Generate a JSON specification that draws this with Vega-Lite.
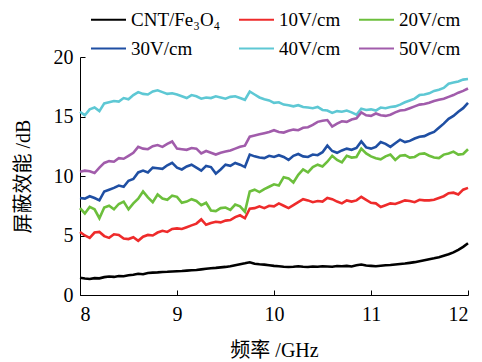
{
"$schema": "https://vega.github.io/schema/vega-lite/v6.json",
"width": 388, "height": 238,
"autosize": {"type": "none"},
"padding": {"left": 80, "top": 57, "right": 14, "bottom": 67},
"background": "white",
"config": {
  "font": "Liberation Serif, Noto Sans CJK SC",
  "view": {"stroke": null},
  "axis": {"grid": false, "domainColor": "#000000", "domainWidth": 1, "tickColor": "#000000", "tickSize": -5, "tickWidth": 1,
    "labelFontSize": 20, "labelColor": "#000000", "titleFontSize": 20, "titleFontWeight": "normal", "titleColor": "#000000", "labelPadding": 12}
},
"data": {"values": [
{"f":8.00,"CNT/Fe₃O₄":1.45,"10V/cm":5.30,"20V/cm":7.30,"30V/cm":8.15,"40V/cm":15.40,"50V/cm":10.35},
{"f":8.05,"CNT/Fe₃O₄":1.38,"10V/cm":5.00,"20V/cm":6.85,"30V/cm":8.10,"40V/cm":15.10,"50V/cm":10.45},
{"f":8.10,"CNT/Fe₃O₄":1.35,"10V/cm":4.80,"20V/cm":7.40,"30V/cm":8.30,"40V/cm":15.60,"50V/cm":10.40},
{"f":8.15,"CNT/Fe₃O₄":1.42,"10V/cm":5.25,"20V/cm":7.20,"30V/cm":8.15,"40V/cm":15.75,"50V/cm":10.25},
{"f":8.20,"CNT/Fe₃O₄":1.40,"10V/cm":5.30,"20V/cm":6.45,"30V/cm":7.95,"40V/cm":15.45,"50V/cm":10.70},
{"f":8.25,"CNT/Fe₃O₄":1.50,"10V/cm":4.95,"20V/cm":7.35,"30V/cm":8.70,"40V/cm":16.10,"50V/cm":11.10},
{"f":8.30,"CNT/Fe₃O₄":1.55,"10V/cm":4.80,"20V/cm":7.50,"30V/cm":8.85,"40V/cm":16.20,"50V/cm":11.25},
{"f":8.35,"CNT/Fe₃O₄":1.52,"10V/cm":5.10,"20V/cm":7.20,"30V/cm":9.00,"40V/cm":16.30,"50V/cm":11.20},
{"f":8.40,"CNT/Fe₃O₄":1.60,"10V/cm":5.05,"20V/cm":7.65,"30V/cm":9.20,"40V/cm":16.25,"50V/cm":11.50},
{"f":8.45,"CNT/Fe₃O₄":1.58,"10V/cm":4.75,"20V/cm":7.85,"30V/cm":9.10,"40V/cm":16.55,"50V/cm":11.45},
{"f":8.50,"CNT/Fe₃O₄":1.66,"10V/cm":4.70,"20V/cm":7.20,"30V/cm":9.60,"40V/cm":16.45,"50V/cm":11.70},
{"f":8.55,"CNT/Fe₃O₄":1.70,"10V/cm":4.85,"20V/cm":7.70,"30V/cm":9.75,"40V/cm":16.80,"50V/cm":11.95},
{"f":8.60,"CNT/Fe₃O₄":1.78,"10V/cm":4.55,"20V/cm":8.10,"30V/cm":10.30,"40V/cm":17.05,"50V/cm":12.45},
{"f":8.65,"CNT/Fe₃O₄":1.75,"10V/cm":4.90,"20V/cm":8.70,"30V/cm":10.45,"40V/cm":16.90,"50V/cm":12.30},
{"f":8.70,"CNT/Fe₃O₄":1.85,"10V/cm":5.05,"20V/cm":8.20,"30V/cm":10.30,"40V/cm":16.85,"50V/cm":12.25},
{"f":8.75,"CNT/Fe₃O₄":1.88,"10V/cm":5.00,"20V/cm":7.80,"30V/cm":10.70,"40V/cm":17.10,"50V/cm":12.50},
{"f":8.80,"CNT/Fe₃O₄":1.90,"10V/cm":5.25,"20V/cm":8.45,"30V/cm":10.65,"40V/cm":17.20,"50V/cm":12.60},
{"f":8.85,"CNT/Fe₃O₄":1.93,"10V/cm":5.40,"20V/cm":8.10,"30V/cm":10.60,"40V/cm":17.05,"50V/cm":12.45},
{"f":8.90,"CNT/Fe₃O₄":1.95,"10V/cm":5.30,"20V/cm":8.00,"30V/cm":10.90,"40V/cm":16.90,"50V/cm":12.70},
{"f":8.95,"CNT/Fe₃O₄":1.98,"10V/cm":5.55,"20V/cm":8.35,"30V/cm":11.10,"40V/cm":16.95,"50V/cm":12.90},
{"f":9.00,"CNT/Fe₃O₄":2.00,"10V/cm":5.60,"20V/cm":8.25,"30V/cm":10.70,"40V/cm":16.85,"50V/cm":12.30},
{"f":9.05,"CNT/Fe₃O₄":2.02,"10V/cm":5.55,"20V/cm":7.75,"30V/cm":10.55,"40V/cm":16.70,"50V/cm":12.25},
{"f":9.10,"CNT/Fe₃O₄":2.05,"10V/cm":5.70,"20V/cm":7.85,"30V/cm":10.80,"40V/cm":16.55,"50V/cm":12.20},
{"f":9.15,"CNT/Fe₃O₄":2.08,"10V/cm":5.85,"20V/cm":8.05,"30V/cm":10.95,"40V/cm":16.80,"50V/cm":12.35},
{"f":9.20,"CNT/Fe₃O₄":2.10,"10V/cm":6.00,"20V/cm":7.90,"30V/cm":10.70,"40V/cm":16.70,"50V/cm":12.30},
{"f":9.25,"CNT/Fe₃O₄":2.15,"10V/cm":6.35,"20V/cm":7.55,"30V/cm":10.45,"40V/cm":16.50,"50V/cm":11.90},
{"f":9.30,"CNT/Fe₃O₄":2.20,"10V/cm":5.90,"20V/cm":7.75,"30V/cm":10.85,"40V/cm":16.60,"50V/cm":12.10},
{"f":9.35,"CNT/Fe₃O₄":2.25,"10V/cm":6.05,"20V/cm":7.10,"30V/cm":10.75,"40V/cm":16.55,"50V/cm":11.95},
{"f":9.40,"CNT/Fe₃O₄":2.28,"10V/cm":6.15,"20V/cm":7.05,"30V/cm":10.20,"40V/cm":16.70,"50V/cm":11.80},
{"f":9.45,"CNT/Fe₃O₄":2.32,"10V/cm":6.10,"20V/cm":7.30,"30V/cm":10.55,"40V/cm":16.60,"50V/cm":11.95},
{"f":9.50,"CNT/Fe₃O₄":2.36,"10V/cm":6.25,"20V/cm":7.35,"30V/cm":10.95,"40V/cm":16.50,"50V/cm":12.05},
{"f":9.55,"CNT/Fe₃O₄":2.42,"10V/cm":6.30,"20V/cm":7.15,"30V/cm":10.85,"40V/cm":16.65,"50V/cm":12.15},
{"f":9.60,"CNT/Fe₃O₄":2.50,"10V/cm":6.55,"20V/cm":7.60,"30V/cm":11.10,"40V/cm":16.70,"50V/cm":12.30},
{"f":9.65,"CNT/Fe₃O₄":2.58,"10V/cm":6.70,"20V/cm":7.45,"30V/cm":10.95,"40V/cm":16.55,"50V/cm":12.45},
{"f":9.70,"CNT/Fe₃O₄":2.66,"10V/cm":6.45,"20V/cm":7.00,"30V/cm":10.75,"40V/cm":16.40,"50V/cm":12.55},
{"f":9.75,"CNT/Fe₃O₄":2.75,"10V/cm":7.25,"20V/cm":8.70,"30V/cm":11.80,"40V/cm":17.10,"50V/cm":13.30},
{"f":9.80,"CNT/Fe₃O₄":2.62,"10V/cm":7.30,"20V/cm":8.85,"30V/cm":11.65,"40V/cm":16.85,"50V/cm":13.40},
{"f":9.85,"CNT/Fe₃O₄":2.58,"10V/cm":7.45,"20V/cm":8.65,"30V/cm":11.55,"40V/cm":16.60,"50V/cm":13.50},
{"f":9.90,"CNT/Fe₃O₄":2.55,"10V/cm":7.30,"20V/cm":8.90,"30V/cm":11.50,"40V/cm":16.45,"50V/cm":13.60},
{"f":9.95,"CNT/Fe₃O₄":2.50,"10V/cm":7.50,"20V/cm":9.10,"30V/cm":11.70,"40V/cm":16.35,"50V/cm":13.70},
{"f":10.00,"CNT/Fe₃O₄":2.45,"10V/cm":7.45,"20V/cm":9.30,"30V/cm":11.60,"40V/cm":16.15,"50V/cm":13.85},
{"f":10.05,"CNT/Fe₃O₄":2.42,"10V/cm":7.70,"20V/cm":9.20,"30V/cm":11.75,"40V/cm":16.20,"50V/cm":13.70},
{"f":10.10,"CNT/Fe₃O₄":2.38,"10V/cm":7.50,"20V/cm":9.90,"30V/cm":11.60,"40V/cm":16.00,"50V/cm":13.65},
{"f":10.15,"CNT/Fe₃O₄":2.35,"10V/cm":7.30,"20V/cm":9.80,"30V/cm":11.35,"40V/cm":15.95,"50V/cm":13.80},
{"f":10.20,"CNT/Fe₃O₄":2.38,"10V/cm":7.55,"20V/cm":9.45,"30V/cm":11.70,"40V/cm":15.85,"50V/cm":13.90},
{"f":10.25,"CNT/Fe₃O₄":2.42,"10V/cm":7.80,"20V/cm":10.10,"30V/cm":11.85,"40V/cm":15.95,"50V/cm":13.85},
{"f":10.30,"CNT/Fe₃O₄":2.38,"10V/cm":8.05,"20V/cm":10.55,"30V/cm":11.65,"40V/cm":15.80,"50V/cm":14.05},
{"f":10.35,"CNT/Fe₃O₄":2.35,"10V/cm":7.95,"20V/cm":10.30,"30V/cm":11.60,"40V/cm":15.75,"50V/cm":14.10},
{"f":10.40,"CNT/Fe₃O₄":2.40,"10V/cm":7.80,"20V/cm":10.75,"30V/cm":11.80,"40V/cm":15.70,"50V/cm":14.30},
{"f":10.45,"CNT/Fe₃O₄":2.38,"10V/cm":7.90,"20V/cm":10.95,"30V/cm":11.75,"40V/cm":15.80,"50V/cm":14.55},
{"f":10.50,"CNT/Fe₃O₄":2.42,"10V/cm":7.85,"20V/cm":10.80,"30V/cm":12.00,"40V/cm":15.55,"50V/cm":14.65},
{"f":10.55,"CNT/Fe₃O₄":2.40,"10V/cm":8.15,"20V/cm":11.20,"30V/cm":12.55,"40V/cm":15.50,"50V/cm":14.70},
{"f":10.60,"CNT/Fe₃O₄":2.38,"10V/cm":8.05,"20V/cm":11.70,"30V/cm":12.10,"40V/cm":15.30,"50V/cm":14.15},
{"f":10.65,"CNT/Fe₃O₄":2.44,"10V/cm":7.85,"20V/cm":11.35,"30V/cm":11.95,"40V/cm":15.45,"50V/cm":14.40},
{"f":10.70,"CNT/Fe₃O₄":2.42,"10V/cm":7.70,"20V/cm":11.15,"30V/cm":12.15,"40V/cm":15.40,"50V/cm":14.60},
{"f":10.75,"CNT/Fe₃O₄":2.45,"10V/cm":7.95,"20V/cm":11.70,"30V/cm":12.30,"40V/cm":15.50,"50V/cm":14.55},
{"f":10.80,"CNT/Fe₃O₄":2.40,"10V/cm":7.85,"20V/cm":11.55,"30V/cm":12.20,"40V/cm":15.35,"50V/cm":14.75},
{"f":10.85,"CNT/Fe₃O₄":2.50,"10V/cm":7.95,"20V/cm":11.60,"30V/cm":12.35,"40V/cm":15.15,"50V/cm":14.85},
{"f":10.90,"CNT/Fe₃O₄":2.56,"10V/cm":8.25,"20V/cm":12.30,"30V/cm":12.90,"40V/cm":15.65,"50V/cm":15.35},
{"f":10.95,"CNT/Fe₃O₄":2.48,"10V/cm":8.00,"20V/cm":11.90,"30V/cm":12.40,"40V/cm":15.55,"50V/cm":15.10},
{"f":11.00,"CNT/Fe₃O₄":2.45,"10V/cm":7.75,"20V/cm":11.65,"30V/cm":12.30,"40V/cm":15.60,"50V/cm":15.05},
{"f":11.05,"CNT/Fe₃O₄":2.42,"10V/cm":7.70,"20V/cm":11.50,"30V/cm":12.45,"40V/cm":15.50,"50V/cm":15.25},
{"f":11.10,"CNT/Fe₃O₄":2.46,"10V/cm":7.40,"20V/cm":11.40,"30V/cm":12.85,"40V/cm":15.75,"50V/cm":15.10},
{"f":11.15,"CNT/Fe₃O₄":2.50,"10V/cm":7.55,"20V/cm":11.65,"30V/cm":12.70,"40V/cm":15.70,"50V/cm":15.05},
{"f":11.20,"CNT/Fe₃O₄":2.52,"10V/cm":7.70,"20V/cm":11.80,"30V/cm":12.45,"40V/cm":15.80,"50V/cm":15.15},
{"f":11.25,"CNT/Fe₃O₄":2.56,"10V/cm":7.65,"20V/cm":11.35,"30V/cm":12.75,"40V/cm":15.85,"50V/cm":15.35},
{"f":11.30,"CNT/Fe₃O₄":2.60,"10V/cm":7.80,"20V/cm":11.70,"30V/cm":13.05,"40V/cm":16.00,"50V/cm":15.50},
{"f":11.35,"CNT/Fe₃O₄":2.64,"10V/cm":7.95,"20V/cm":11.75,"30V/cm":12.85,"40V/cm":16.20,"50V/cm":15.55},
{"f":11.40,"CNT/Fe₃O₄":2.70,"10V/cm":7.90,"20V/cm":11.55,"30V/cm":12.95,"40V/cm":16.35,"50V/cm":15.70},
{"f":11.45,"CNT/Fe₃O₄":2.76,"10V/cm":7.80,"20V/cm":11.60,"30V/cm":13.15,"40V/cm":16.50,"50V/cm":15.85},
{"f":11.50,"CNT/Fe₃O₄":2.84,"10V/cm":8.00,"20V/cm":11.85,"30V/cm":13.30,"40V/cm":16.80,"50V/cm":16.00},
{"f":11.55,"CNT/Fe₃O₄":2.92,"10V/cm":7.95,"20V/cm":11.90,"30V/cm":13.35,"40V/cm":16.85,"50V/cm":16.05},
{"f":11.60,"CNT/Fe₃O₄":3.00,"10V/cm":7.95,"20V/cm":11.70,"30V/cm":13.55,"40V/cm":16.95,"50V/cm":16.15},
{"f":11.65,"CNT/Fe₃O₄":3.08,"10V/cm":8.00,"20V/cm":11.55,"30V/cm":13.70,"40V/cm":17.15,"50V/cm":16.30},
{"f":11.70,"CNT/Fe₃O₄":3.18,"10V/cm":8.15,"20V/cm":11.50,"30V/cm":14.05,"40V/cm":17.25,"50V/cm":16.40},
{"f":11.75,"CNT/Fe₃O₄":3.30,"10V/cm":8.30,"20V/cm":11.80,"30V/cm":14.40,"40V/cm":17.40,"50V/cm":16.50},
{"f":11.80,"CNT/Fe₃O₄":3.42,"10V/cm":8.55,"20V/cm":11.90,"30V/cm":14.80,"40V/cm":17.75,"50V/cm":16.65},
{"f":11.85,"CNT/Fe₃O₄":3.58,"10V/cm":8.60,"20V/cm":12.05,"30V/cm":15.05,"40V/cm":17.85,"50V/cm":16.80},
{"f":11.90,"CNT/Fe₃O₄":3.80,"10V/cm":8.45,"20V/cm":11.80,"30V/cm":15.40,"40V/cm":17.95,"50V/cm":17.00},
{"f":11.95,"CNT/Fe₃O₄":4.05,"10V/cm":8.85,"20V/cm":11.85,"30V/cm":15.70,"40V/cm":18.10,"50V/cm":17.15},
{"f":12.00,"CNT/Fe₃O₄":4.35,"10V/cm":9.00,"20V/cm":12.25,"30V/cm":16.15,"40V/cm":18.15,"50V/cm":17.35}
]},
"transform": [{"fold": ["CNT/Fe₃O₄","10V/cm","20V/cm","30V/cm","40V/cm","50V/cm"], "as": ["series","se"]}],
"mark": {"type": "line", "strokeWidth": 2.6},
"encoding": {
  "x": {"field": "f", "type": "quantitative", "scale": {"domain": [8,12], "nice": false},
        "axis": {"title": "频率 /GHz", "values": [8,9,10,11,12], "labelPadding": 14, "titlePadding": 16}},
  "y": {"field": "se", "type": "quantitative", "scale": {"domain": [0,20], "nice": false},
        "axis": {"title": "屏蔽效能 /dB", "values": [0,5,10,15,20], "titlePadding": 20}},
  "color": {"field": "series", "type": "nominal",
    "scale": {"domain": ["CNT/Fe₃O₄","10V/cm","20V/cm","30V/cm","40V/cm","50V/cm"],
              "range": ["#000000","#ee2b2b","#6cbf3c","#1f4fa3","#5ec8d4","#a15cab"]},
    "legend": {"title": null, "orient": "none", "legendX": 10, "legendY": -56, "direction": "horizontal", "columns": 3,
      "symbolType": "stroke", "symbolSize": 1225, "symbolStrokeWidth": 2, "labelFontSize": 19, "labelColor": "#000000",
      "labelOffset": 4, "columnPadding": 14, "rowPadding": 0, "padding": 0}}
}
}
